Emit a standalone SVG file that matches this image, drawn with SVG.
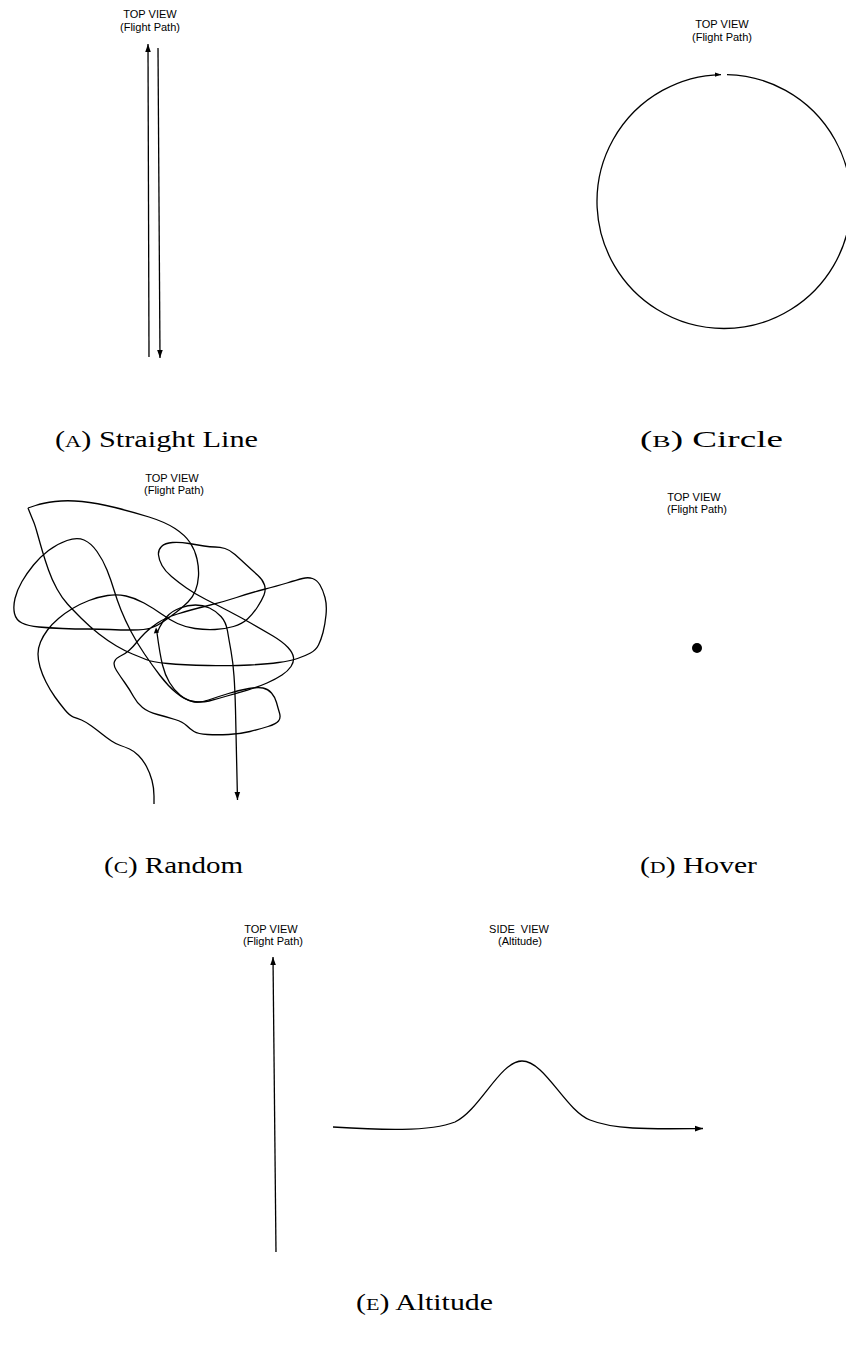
<svg xmlns="http://www.w3.org/2000/svg" width="846" height="1348" viewBox="0 0 846 1348">
<style>
.t{font-family:"Liberation Sans",Arial,sans-serif;font-size:11px;fill:#000;text-anchor:middle;white-space:pre}
.lab{font-family:"Liberation Serif","Times New Roman",serif;font-size:23px;fill:#000}
.sc{font-size:17px}
.ln{fill:none;stroke:#000;stroke-width:1.3}
</style>
<defs>
<marker id="ah" viewBox="0 0 10 10" refX="10" refY="5" markerWidth="8" markerHeight="8" markerUnits="userSpaceOnUse" orient="auto">
<path d="M0,1.5 L10,5 L0,8.5 z" fill="#000"/>
</marker>
<marker id="ahs" viewBox="0 0 10 10" refX="10" refY="5" markerWidth="6" markerHeight="6" markerUnits="userSpaceOnUse" orient="auto">
<path d="M0,1.5 L10,5 L0,8.5 z" fill="#000"/>
</marker>
</defs>

<rect width="846" height="1348" fill="#fff"/>

<g id="panel-a">
<text class="t" x="150" y="18">TOP VIEW</text>
<text class="t" x="150" y="31">(Flight Path)</text>
<g id="a-paths">
<path class="ln" d="M149,357 L148,44" marker-end="url(#ah)"/>
<path class="ln" d="M158,48 L160,358" marker-end="url(#ah)"/>
</g>
<text class="lab" x="55" y="447" textLength="203" lengthAdjust="spacingAndGlyphs">(<tspan class="sc">A</tspan>) Straight Line</text>
</g>

<g id="panel-b">
<text class="t" x="722" y="28">TOP VIEW</text>
<text class="t" x="722" y="41">(Flight Path)</text>
<path class="ln" d="M727,74.54 A127,127 0 1 1 721,74.54" marker-end="url(#ahs)"/>
<text class="lab" x="640" y="447" textLength="143" lengthAdjust="spacingAndGlyphs">(<tspan class="sc">B</tspan>) Circle</text>
</g>

<g id="panel-c">
<text class="t" x="172" y="482">TOP VIEW</text>
<text class="t" x="174" y="494">(Flight Path)</text>
<g id="c-paths">
<path class="ln" d="M154,804 L154,796 Q154,788 152,780.5 Q150,773 146.5,766.5 Q143,760 138.5,755.5 Q134,751 129.5,749 Q125,747 120.5,745.5 Q116,744 111.5,741 Q107,738 102,734 Q97,730 91.5,726 Q86,722 81.5,720 Q77,718 73.5,717 Q70,716 65,710 Q60,704 55,697 Q50,690 46,682 Q42,674 40,667 Q38,660 38,654 Q38,648 40.5,642 Q43,636 47.5,630 Q52,624 58.5,618.5 Q65,613 72.5,608.5 Q80,604 89,600.5 Q98,597 107.5,595.5 Q117,594 126,596 Q135,598 144,603 Q153,608 161.5,614 Q170,620 177.5,623.5 Q185,627 195,628.5 Q205,630 215,629.5 Q225,629 233.5,626.5 Q242,624 247.5,619 Q253,614 257.5,607 Q262,600 264,595 Q266,590 264.5,585 Q263,580 258,575.5 Q253,571 246.5,565 Q240,559 235,554.5 Q230,550 225,548.5 Q220,547 215,547 Q210,547 204,546 Q198,545 189,543.5 Q180,542 172.5,542.5 Q165,543 161.5,546.5 Q158,550 158.5,555 Q159,560 162,565.5 Q165,571 171.5,576.5 Q178,582 186.5,588 Q195,594 206,599.5 Q217,605 228.5,611 Q240,617 251.5,623.5 Q263,630 273,636 Q283,642 288,647.5 Q293,653 293.5,657.5 Q294,662 291,666.5 Q288,671 282,675 Q276,679 267,683 Q258,687 247.5,690 Q237,693 227,696 Q217,699 209,701 Q201,703 193.5,701.5 Q186,700 180,695 Q174,690 169.5,682.5 Q165,675 162.5,665 Q160,655 157,633 L159.5,627.5 Q162,622 167,616.5 Q172,611 180,608 Q188,605 195.5,605 Q203,605 209.5,608 Q216,611 221,616.5 Q226,622 227.5,631 Q229,640 231,651 Q233,662 234,676 Q235,690 235.5,710 Q236,730 237.5,800" marker-end="url(#ah)"/>
<path class="ln" d="M28,508 L35.5,505.5 Q43,503 55,501.5 Q67,500 82,501.5 Q97,503 115,507.5 Q133,512 149,517 Q165,522 175,528.5 Q185,535 190,542.5 Q195,550 197,559 Q199,568 198.5,576 Q198,584 195.5,590.5 Q193,597 188,602 Q183,607 176.5,612 Q170,617 163.5,621.5 Q157,626 151,628 Q145,630 132.5,630 Q120,630 110,629.5 Q100,629 87.5,629 Q75,629 62.5,628.5 Q50,628 39,627 Q28,626 22,623 Q16,620 14.5,613.5 Q13,607 15,598.5 Q17,590 22,581.5 Q27,573 33.5,565 Q40,557 48.5,550.5 Q57,544 67,540.5 Q77,537 84,540 Q91,543 97,551.5 Q103,560 107,570 Q111,580 114,590 Q117,600 121,610 Q125,620 131,631.5 Q137,643 144.5,654 Q152,665 160,675.5 Q168,686 176.5,693 Q185,700 192.5,701.5 Q200,703 208.5,700 Q217,697 228.5,693.5 Q240,690 249,688.5 Q258,687 263,688 Q268,689 271.5,693 Q275,697 276.5,702.5 Q278,708 279.5,713 Q281,718 278.5,721 Q276,724 268,726.5 Q260,729 250,731.5 Q240,734 228.5,734.5 Q217,735 207.5,734.5 Q198,734 194,731.5 Q190,729 186.5,725.5 Q183,722 175,719.5 Q167,717 157.5,714.5 Q148,712 142.5,707.5 Q137,703 133.5,696.5 Q130,690 125,683 Q120,676 116.5,670.5 Q113,665 114.5,661.5 Q116,658 120.5,656 Q125,654 129,650.5 Q133,647 136.5,642.5 Q140,638 145,633 Q150,628 157.5,623 Q165,618 177.5,614 Q190,610 206.5,606 Q223,602 236.5,597.5 Q250,593 263.5,589.5 Q277,586 287,583 Q297,580 302.5,578.5 Q308,577 312.5,578.5 Q317,580 320,585 Q323,590 325,597.5 Q327,605 326,615 Q325,625 323,632.5 Q321,640 318.5,645 Q316,650 310.5,653 Q305,656 297.5,658.5 Q290,661 278.5,662.5 Q267,664 250,665 Q233,666 208,665.5 Q183,665 167.5,663.5 Q152,662 146,659.5 Q140,657 132.5,654 Q125,651 116.5,646 Q108,641 99,634 Q90,627 81.5,618.5 Q73,610 67.5,604 Q62,598 57,589 Q52,580 48.5,570 Q45,560 42.5,551.5 Q40,543 37.5,534 Q35,525 33.5,521.5 Q32,518 28,508"/>
<polygon points="156,627.5 153.8,633.5 159,632.5" fill="#000"/>
</g>
<text class="lab" x="104" y="873" textLength="139" lengthAdjust="spacingAndGlyphs">(<tspan class="sc">C</tspan>) Random</text>
</g>

<g id="panel-d">
<text class="t" x="694" y="501">TOP VIEW</text>
<text class="t" x="697" y="513">(Flight Path)</text>
<circle cx="697" cy="648" r="5" fill="#000"/>
<text class="lab" x="640" y="873" textLength="117" lengthAdjust="spacingAndGlyphs">(<tspan class="sc">D</tspan>) Hover</text>
</g>

<g id="panel-e">
<text class="t" x="271" y="933">TOP VIEW</text>
<text class="t" x="273" y="945">(Flight Path)</text>
<text class="t" x="519" y="933" xml:space="preserve">SIDE  VIEW</text>
<text class="t" x="520" y="945">(Altitude)</text>
<g id="e-paths">
<path class="ln" d="M276,1252 L273,957" marker-end="url(#ah)"/>
<path class="ln" d="M333,1127 C380,1130 430,1132 455,1122 C480,1110 500,1061 522,1061 C545,1061 565,1110 590,1120 C615,1130 650,1129 703,1128.5" marker-end="url(#ah)"/>
</g>
<text class="lab" x="356" y="1310" textLength="137" lengthAdjust="spacingAndGlyphs">(<tspan class="sc">E</tspan>) Altitude</text>
</g>
</svg>
